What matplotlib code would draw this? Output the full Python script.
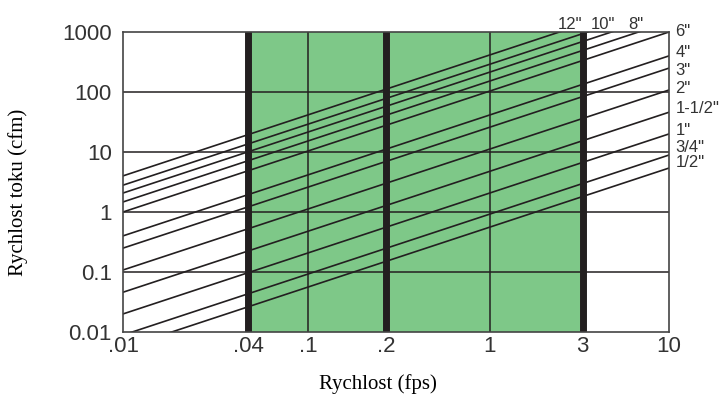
import numpy as np
import matplotlib
matplotlib.use('Agg')
import matplotlib.pyplot as plt

# flow (cfm) of each pipe line at the left edge of the chart (0.01 fps)
pipe_labels = ['', '12"', '10"', '8"', '6"', '4"', '3"', '2"', '1-1/2"', '1"', '3/4"', '1/2"']
flow_at_min = [4.0, 2.8, 2.07, 1.47, 1.0, 0.40, 0.25, 0.108, 0.046, 0.020, 0.0089, 0.0054]
v_min, v_max = 0.01, 10

vel_ticks = [0.01, 0.04, 0.1, 0.2, 1, 3, 10]
vel_ticklabels = ['.01', '.04', '.1', '.2', '1', '3', '10']
flow_ticks = [0.01, 0.1, 1, 10, 100, 1000]
flow_ticklabels = ['0.01', '0.1', '1', '10', '100', '1000']
zone_edges = [0.04, 0.2, 3]      # thick limit lines
green_zone = (0.04, 3)

# the velocity axis of the original is schematic, not a true log axis
tick_pos = [0, 0.229, 0.339, 0.482, 0.672, 0.842, 1]
log_ticks = np.log10(vel_ticks)

def fwd(x):
    x = np.asarray(x, dtype=float)
    return np.interp(np.log10(np.maximum(x, 1e-9)), log_ticks, tick_pos)

def inv(p):
    return 10 ** np.interp(np.asarray(p, dtype=float), tick_pos, log_ticks)

dark = '#231f20'
green = '#7ec888'
txt = '#333333'
sans = 'Liberation Sans'
serif = 'Liberation Serif'

fig = plt.figure(figsize=(7.26, 3.97), dpi=100)
ax = fig.add_axes([123/726, 1 - 332/397, 546/726, 300/397])
ax.set_xscale('function', functions=(fwd, inv))
ax.set_yscale('log')
ax.set_xlim(v_min, v_max)
ax.set_ylim(flow_ticks[0], flow_ticks[-1])

ax.axvspan(*green_zone, color=green, lw=0, zorder=0)
for v in [0.1, 1]:
    ax.axvline(v, color=dark, lw=1.1, zorder=1)
for q in flow_ticks[1:-1]:
    ax.axhline(q, color=dark, lw=1.1, zorder=1)

for q in flow_at_min:
    ax.plot([v_min, v_max], [q, q * v_max / v_min], color=dark, lw=1.2, zorder=2)

for v in zone_edges:
    ax.axvline(v, color=dark, lw=5, zorder=3)

ax.xaxis.set_minor_locator(plt.NullLocator())
ax.yaxis.set_minor_locator(plt.NullLocator())
ax.set_xticks(vel_ticks)
ax.set_xticklabels(vel_ticklabels, fontfamily=sans, fontsize=16, color=txt)
ax.set_yticks(flow_ticks)
ax.set_yticklabels(flow_ticklabels, fontfamily=sans, fontsize=16, color=txt)
ax.tick_params(axis='both', length=0)
ax.tick_params(axis='y', pad=8)
ax.tick_params(axis='x', pad=3)
for s in ax.spines.values():
    s.set_color('#444444')
    s.set_linewidth(1.2)
    s.set_zorder(4)

# labels of the lines leaving through the top edge
top_x = {'12"': 0.819, '10"': 0.879, '8"': 0.940}
for lab, fx in top_x.items():
    ax.text(fx, 1.0, lab, transform=ax.transAxes, ha='center', va='bottom',
            fontfamily=sans, fontsize=12, color=txt)

# labels of the lines ending at the right edge (flow level of each label)
right_labels = ['6"', '4"', '3"', '2"', '1-1/2"', '1"', '3/4"', '1/2"']
right_label_flow = [1000, 464, 232, 116, 54, 23, 11.7, 6.6]
for lab, q in zip(right_labels, right_label_flow):
    ax.text(1.012, q, lab, transform=ax.get_yaxis_transform(), ha='left', va='center',
            fontfamily=sans, fontsize=12, color=txt, clip_on=False)

ax.set_xlabel('Rychlost (fps)', fontfamily=serif, fontsize=15, va='center')
ax.xaxis.set_label_coords(0.467, -0.173)
ax.set_ylabel('Rychlost toku (cfm)', fontfamily=serif, fontsize=15, va='center')
ax.yaxis.set_label_coords(-0.192, 0.465)

fig.savefig('out.png', dpi=100)
